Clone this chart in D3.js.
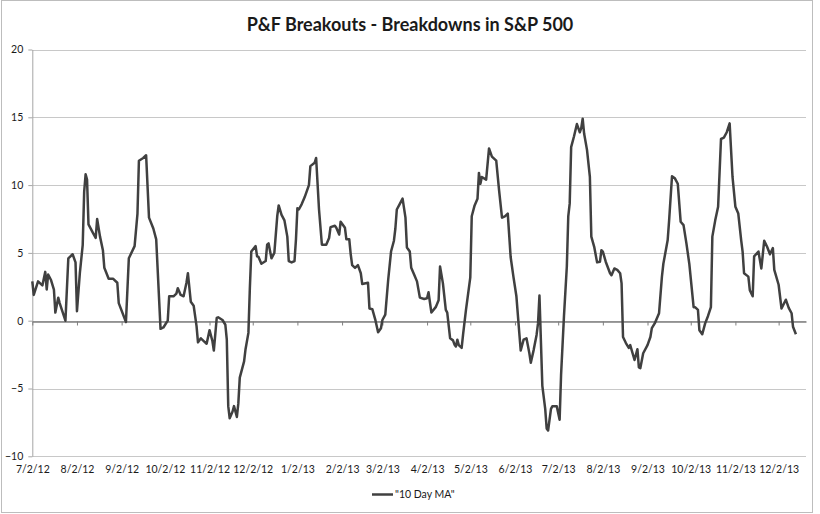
<!DOCTYPE html>
<html>
<head>
<meta charset="utf-8">
<script src="https://cdn.jsdelivr.net/npm/d3@7"></script>
<style>
  body { margin: 0; background: #fff; }
  text { font-family: Lato, "Open Sans", sans-serif; fill: #1a1a1a; }
</style>
</head>
<body>
<div class="chart"></div>
<script>
// data (10 day MA of P&F breakouts - breakdowns)
var dates = [
  "2012-07-02","2012-07-03","2012-07-06","2012-07-09","2012-07-11","2012-07-12","2012-07-13","2012-07-15",
  "2012-07-17","2012-07-18","2012-07-20","2012-07-21","2012-07-25","2012-07-27","2012-07-30","2012-08-01",
  "2012-08-02","2012-08-04","2012-08-06","2012-08-07","2012-08-08","2012-08-09","2012-08-10","2012-08-13",
  "2012-08-15","2012-08-16","2012-08-18","2012-08-20","2012-08-21","2012-08-24","2012-08-27","2012-08-30",
  "2012-08-31","2012-09-05","2012-09-07","2012-09-11","2012-09-13","2012-09-14","2012-09-17","2012-09-19",
  "2012-09-21","2012-09-24","2012-09-26","2012-09-29","2012-10-01","2012-10-04","2012-10-05","2012-10-08",
  "2012-10-10","2012-10-11","2012-10-13","2012-10-15","2012-10-17","2012-10-18","2012-10-20","2012-10-22",
  "2012-10-24","2012-10-25","2012-10-27","2012-10-29","2012-10-31","2012-11-02","2012-11-04","2012-11-05",
  "2012-11-07","2012-11-08","2012-11-11","2012-11-13","2012-11-14","2012-11-15","2012-11-16","2012-11-18",
  "2012-11-19","2012-11-21","2012-11-22","2012-11-23","2012-11-26","2012-11-27","2012-11-29","2012-11-30",
  "2012-12-01","2012-12-04","2012-12-05","2012-12-06","2012-12-08","2012-12-11","2012-12-12","2012-12-13",
  "2012-12-15","2012-12-17","2012-12-19","2012-12-20","2012-12-22","2012-12-24","2012-12-26","2012-12-27",
  "2012-12-29","2012-12-31","2013-01-01","2013-01-02","2013-01-03","2013-01-05","2013-01-07","2013-01-10",
  "2013-01-11","2013-01-14","2013-01-15","2013-01-17","2013-01-19","2013-01-22","2013-01-24","2013-01-25",
  "2013-01-28","2013-01-29","2013-01-31","2013-02-01","2013-02-03","2013-02-04","2013-02-05","2013-02-07",
  "2013-02-08","2013-02-09","2013-02-11","2013-02-13","2013-02-15","2013-02-16","2013-02-20","2013-02-21",
  "2013-02-23","2013-02-25","2013-02-27","2013-03-01","2013-03-02","2013-03-04","2013-03-06","2013-03-08",
  "2013-03-10","2013-03-11","2013-03-12","2013-03-14","2013-03-16","2013-03-17","2013-03-18","2013-03-19",
  "2013-03-21","2013-03-22","2013-03-24","2013-03-26","2013-03-28","2013-03-31","2013-04-02","2013-04-03",
  "2013-04-05","2013-04-08","2013-04-10","2013-04-11","2013-04-13","2013-04-15","2013-04-16","2013-04-18",
  "2013-04-20","2013-04-21","2013-04-22","2013-04-23","2013-04-24","2013-04-26","2013-04-27","2013-04-29",
  "2013-05-02","2013-05-03","2013-05-05","2013-05-07","2013-05-08","2013-05-09","2013-05-10","2013-05-13",
  "2013-05-15","2013-05-17","2013-05-20","2013-05-22","2013-05-24","2013-05-26","2013-05-28","2013-05-30",
  "2013-06-01","2013-06-03","2013-06-05","2013-06-06","2013-06-08","2013-06-10","2013-06-12","2013-06-13",
  "2013-06-15","2013-06-17","2013-06-18","2013-06-19","2013-06-21","2013-06-23","2013-06-24","2013-06-25",
  "2013-06-27","2013-06-28","2013-07-01","2013-07-03","2013-07-04","2013-07-06","2013-07-08","2013-07-09",
  "2013-07-10","2013-07-11","2013-07-13","2013-07-15","2013-07-17","2013-07-18","2013-07-19","2013-07-20",
  "2013-07-22","2013-07-24","2013-07-25","2013-07-27","2013-07-29","2013-07-31","2013-08-01","2013-08-02",
  "2013-08-04","2013-08-07","2013-08-08","2013-08-10","2013-08-12","2013-08-14","2013-08-15","2013-08-16",
  "2013-08-18","2013-08-20","2013-08-21","2013-08-24","2013-08-26","2013-08-27","2013-08-28","2013-08-30",
  "2013-09-02","2013-09-04","2013-09-05","2013-09-07","2013-09-10","2013-09-12","2013-09-13","2013-09-16",
  "2013-09-17","2013-09-19","2013-09-21","2013-09-23","2013-09-25","2013-09-27","2013-09-29","2013-10-01",
  "2013-10-04","2013-10-05","2013-10-07","2013-10-08","2013-10-10","2013-10-12","2013-10-14","2013-10-16",
  "2013-10-17","2013-10-19","2013-10-21","2013-10-23","2013-10-25","2013-10-27","2013-10-29","2013-10-31",
  "2013-11-02","2013-11-04","2013-11-06","2013-11-07","2013-11-08","2013-11-11","2013-11-12","2013-11-14",
  "2013-11-15","2013-11-18","2013-11-20","2013-11-22","2013-11-24","2013-11-26","2013-11-28","2013-11-29",
  "2013-12-02","2013-12-04","2013-12-07","2013-12-09","2013-12-11","2013-12-12","2013-12-14"
];

var maValues = [
  2.9, 1.9, 2.9, 2.6, 3.6, 2.3, 3.4, 3.0,
  2.3, 0.6, 1.7, 1.3, 0.0, 4.6, 4.9, 4.3,
  0.7, 3.5, 5.6, 9.5, 10.8, 10.4, 7.1, 6.5,
  6.1, 7.5, 6.2, 5.2, 3.9, 3.1, 3.1, 2.8,
  1.3, -0.1, 4.6, 5.5, 7.9, 11.8, 12.0, 12.2,
  7.6, 6.8, 6.0, -0.6, -0.5, 0.0, 1.8, 1.8,
  2.0, 2.4, 1.9, 1.8, 2.8, 3.5, 1.4, 1.1,
  -0.4, -1.6, -1.3, -1.5, -1.7, -0.7, -1.5, -2.2,
  0.2, 0.25, 0.05, -0.3, -1.4, -6.3, -7.2, -6.7,
  -6.3, -7.1, -6.1, -4.2, -3.0, -2.1, -0.9, 2.4,
  5.1, 5.5, 4.75, 4.7, 4.2, 4.4, 5.6, 5.7,
  4.6, 5.0, 7.7, 8.5, 7.8, 7.4, 6.2, 4.4,
  4.3, 4.4, 6.0, 8.3, 8.2, 8.6, 9.1, 10.0,
  11.4, 11.65, 12.0, 8.2, 5.6, 5.6, 6.1, 6.9,
  7.0, 6.85, 6.35, 7.3, 7.0, 6.85, 6.0, 6.0,
  4.9, 4.1, 3.9, 4.1, 3.5, 2.7, 2.8, 0.9,
  0.85, 0.1, -0.85, -0.55, 0.05, 0.45, 3.0, 5.1,
  5.9, 6.8, 8.2, 8.6, 9.0, 8.3, 7.6, 5.4,
  5.1, 3.9, 3.4, 2.9, 1.7, 1.6, 1.65, 2.1,
  0.6, 1.0, 1.5, 4.0, 2.75, 0.8, 0.6, -1.3,
  -1.45, -1.75, -1.9, -1.4, -1.8, -2.0, -1.0, 0.8,
  3.2, 7.7, 8.5, 9.0, 10.9, 10.1, 10.6, 10.4,
  12.7, 12.1, 11.8, 9.6, 7.6, 7.7, 7.9, 4.7,
  3.2, 1.8, -0.9, -2.2, -1.4, -1.3, -2.4, -3.1,
  -2.15, -1.05, -0.2, 1.85, -4.8, -6.5, -7.95, -8.1,
  -6.5, -6.3, -6.3, -7.3, -4.0, 0.3, 4.0, 7.7,
  8.65, 12.8, 13.6, 14.5, 13.9, 14.2, 14.9, 13.8,
  12.6, 10.6, 6.2, 5.45, 4.3, 4.35, 5.2, 5.1,
  4.35, 3.5, 3.35, 3.85, 3.75, 3.5, 2.75, -1.2,
  -1.65, -2.0, -1.8, -2.9, -2.1, -3.45, -3.5, -2.4,
  -1.8, -1.2, -0.55, -0.2, 0.55, 3.25, 4.2, 5.95,
  7.4, 10.65, 10.5, 10.1, 7.3, 7.05, 5.7, 4.2,
  1.0, 1.0, 0.8, -0.7, -1.0, -0.2, 0.35, 1.0,
  6.2, 7.4, 8.4, 13.4, 13.5, 13.9, 14.55, 10.6,
  8.4, 7.9, 5.95, 5.1, 3.5, 3.25, 2.25, 1.8,
  4.75, 5.1, 3.85, 5.9, 5.45, 4.9, 5.35, 3.75,
  2.65, 0.9, 1.55, 0.95, 0.55, -0.45, -1.0
];

var tickLabels = ["7/2/12","8/2/12","9/2/12","10/2/12","11/2/12","12/2/12","1/2/13","2/2/13","3/2/13",
  "4/2/13","5/2/13","6/2/13","7/2/13","8/2/13","9/2/13","10/2/13","11/2/13","12/2/13"];
var yTicks = [-10, -5, 0, 5, 10, 15, 20];
var seriesName = "\"10 Day MA\"";

var w = 820;
var h = 514;
var plot = {left: 32.3, right: 806, top: 49.5, bottom: 456.3};

var parseDay = d3.timeParse("%Y-%m-%d");
var parseTick = d3.timeParse("%m/%d/%y");

var data = dates.map(function(d, i) {
  return {date: parseDay(d), value: maValues[i]};
});

//Scales

var xScale = d3.scaleTime()
  .domain([parseDay("2012-07-02"), parseDay("2013-12-21")])
  .range([plot.left, plot.right]);

var yScale = d3.scaleLinear()
  .domain([-10, 20])
  .range([plot.bottom, plot.top]);

//Add svg

var svg = d3.select(".chart")
  .append("svg")
  .attr("width", w)
  .attr("height", h);

// chart area border
svg.append("rect")
  .attr("x", 1.5)
  .attr("y", 0.5)
  .attr("width", 811)
  .attr("height", 512)
  .attr("fill", "#fff")
  .attr("stroke", "#bdbdbd");

//Title

svg.append("text")
  .attr("x", 410)
  .attr("y", 31)
  .attr("text-anchor", "middle")
  .style("font-size", "18px")
  .style("font-weight", "bold")
  .text("P&F Breakouts - Breakdowns in S&P 500");

//Gridlines

svg.append("g")
  .selectAll("line")
  .data(yTicks)
  .enter()
  .append("line")
  .attr("x1", plot.left)
  .attr("x2", plot.right)
  .attr("y1", function(d) { return Math.round(yScale(d)) + 0.5; })
  .attr("y2", function(d) { return Math.round(yScale(d)) + 0.5; })
  .attr("stroke", "#c8c8c8")
  .attr("stroke-width", 1.2);

//Y axis

var yAxis = svg.append("g")
  .attr("transform", "translate(" + plot.left + ",0)")
  .call(d3.axisLeft(yScale).tickValues(yTicks).tickSize(4).tickSizeOuter(0).tickPadding(5));

yAxis.select(".domain").attr("stroke", "#a6a6a6");
yAxis.selectAll(".tick line").attr("stroke", "#a6a6a6");
yAxis.selectAll("text")
  .style("font-size", "10.5px")
  .style("font-family", "Lato, sans-serif")
  .attr("fill", "#1a1a1a");

//X axis line at zero, labels at the bottom

var tickDates = tickLabels.map(function(t) { return parseTick(t); });

var xAxisLine = svg.append("g")
  .attr("transform", "translate(0," + (Math.round(yScale(0)) + 0.5) + ")")
  .call(d3.axisBottom(xScale).tickValues(tickDates).tickSize(4).tickSizeOuter(0).tickFormat(""));

xAxisLine.select(".domain").attr("stroke", "#7f7f7f").attr("stroke-width", 1.3);
xAxisLine.selectAll(".tick line").attr("stroke", "#7f7f7f");

var xLabels = svg.append("g")
  .attr("transform", "translate(0," + plot.bottom + ")")
  .call(d3.axisBottom(xScale).tickValues(tickDates).tickSize(0).tickPadding(9)
    .tickFormat(function(d, i) { return tickLabels[i]; }));

xLabels.select(".domain").remove();
xLabels.selectAll("text")
  .style("font-size", "10.5px")
  .style("font-family", "Lato, sans-serif")
  .attr("fill", "#1a1a1a");

//Define the line

var lineGen = d3.line()
  .x(function(d) { return xScale(d.date); })
  .y(function(d) { return yScale(d.value); });

svg.append("path")
  .attr("d", lineGen(data))
  .attr("stroke", "#404040")
  .attr("stroke-width", 2.5)
  .attr("stroke-linejoin", "round")
  .attr("fill", "none");

//Legend

var legend = svg.append("g")
  .attr("transform", "translate(372,494)");

legend.append("line")
  .attr("x1", 0)
  .attr("x2", 21)
  .attr("y1", 0.5)
  .attr("y2", 0.5)
  .attr("stroke", "#404040")
  .attr("stroke-width", 2.5);

legend.append("text")
  .attr("x", 23)
  .attr("y", 4)
  .style("font-size", "10.5px")
  .text(seriesName);
</script>
</body>
</html>
